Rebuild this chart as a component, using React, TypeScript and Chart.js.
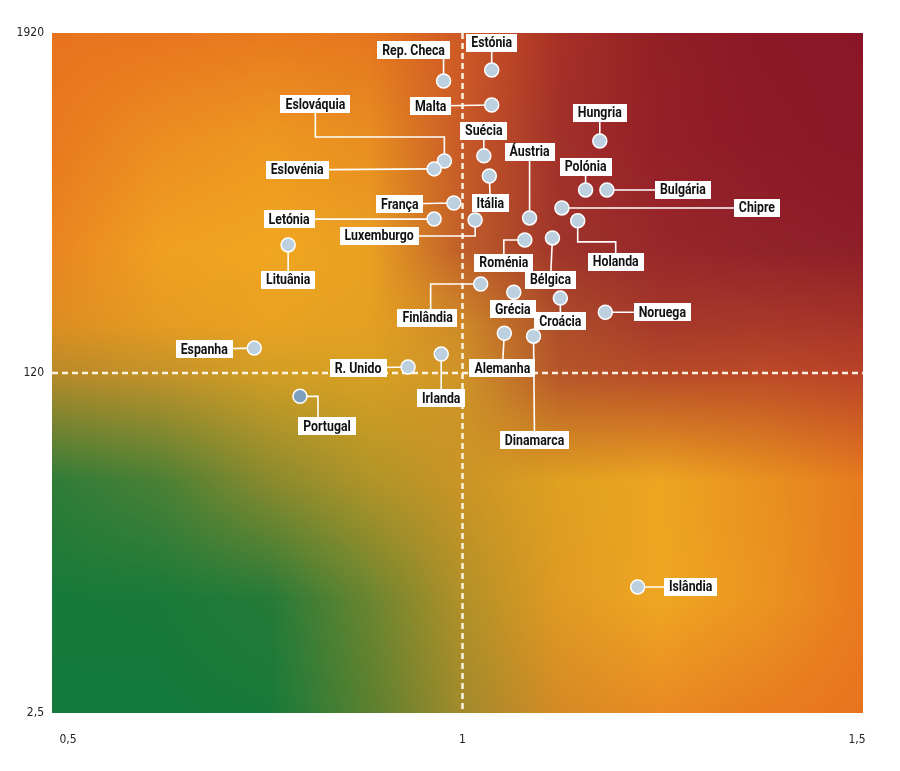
import { useEffect, useRef } from "react";
import { Chart, registerables } from "chart.js";

Chart.register(...registerables);

// countries and their two indicators (x: ratio, y: value on the split log axis)
const countries = [
  "Estónia", "Rep. Checa", "Malta", "Eslováquia", "Eslovénia", "Suécia", "Itália",
  "Áustria", "Hungria", "Polónia", "Bulgária", "Chipre", "França", "Letónia",
  "Luxemburgo", "Lituânia", "Holanda", "Roménia", "Bélgica", "Finlândia", "Grécia",
  "Croácia", "Noruega", "Espanha", "R. Unido", "Irlanda", "Alemanha", "Dinamarca",
  "Portugal", "Islândia",
];
const xValues = [
  1.037, 0.976, 1.037, 0.977, 0.964, 1.027, 1.034,
  1.085, 1.174, 1.156, 1.183, 1.126, 0.989, 0.964,
  1.016, 0.779, 1.146, 1.079, 1.114, 1.023, 1.065,
  1.124, 1.181, 0.736, 0.931, 0.973, 1.053, 1.09,
  0.794, 1.222,
];
const yValues = [
  1420, 1298, 1067, 676, 634, 705, 598,
  425, 796, 534, 534, 461, 480, 421,
  418, 341, 415, 355, 361, 248, 232,
  221, 197, 147, 126, 140, 166, 162,
  92, 10.5,
];
const xTicks = [0.5, 1, 1.5];
const yTicks = [2.5, 120, 1920];
const xTickLabels = ["0,5", "1", "1,5"];
const yTickLabels = ["2,5", "120", "1920"];
const highlighted = "Portugal";

// y axis: two log halves, 2,5..120 below the middle and 120..1920 above it
const toPos = (v: number) =>
  v <= yTicks[1]
    ? Math.log(v / yTicks[0]) / Math.log(yTicks[1] / yTicks[0])
    : 1 + Math.log(v / yTicks[1]) / Math.log(yTicks[2] / yTicks[1]);

// label placement (pixel offsets from the point), elbows for the leader lines
type Lay = { dx: number; dy: number; via?: number[][] };
const labelLayout: Record<string, Lay> = {
  "Estónia": { dx: 0, dy: -27 },
  "Rep. Checa": { dx: -30, dy: -31, via: [[0, -31]] },
  "Malta": { dx: -61, dy: 1 },
  "Eslováquia": { dx: -129, dy: -57, via: [[0, -24], [-129, -24]] },
  "Eslovénia": { dx: -137, dy: 1 },
  "Suécia": { dx: 0, dy: -25 },
  "Itália": { dx: 1, dy: 27 },
  "Áustria": { dx: 0, dy: -66 },
  "Hungria": { dx: 0, dy: -28 },
  "Polónia": { dx: 0, dy: -23 },
  "Bulgária": { dx: 76, dy: 0 },
  "Chipre": { dx: 195, dy: 0 },
  "França": { dx: -54, dy: 1 },
  "Letónia": { dx: -145, dy: 0 },
  "Luxemburgo": { dx: -96, dy: 16, via: [[0, 16]] },
  "Lituânia": { dx: 0, dy: 35 },
  "Holanda": { dx: 38, dy: 41, via: [[0, 21], [38, 21]] },
  "Roménia": { dx: -21, dy: 23, via: [[-21, 0], [-21, 23]] },
  "Bélgica": { dx: -2, dy: 42 },
  "Finlândia": { dx: -53, dy: 34, via: [[-50, 0], [-50, 34]] },
  "Grécia": { dx: -1, dy: 17 },
  "Croácia": { dx: 0, dy: 23 },
  "Noruega": { dx: 57, dy: 0 },
  "Espanha": { dx: -50, dy: 1 },
  "R. Unido": { dx: -50, dy: 1 },
  "Irlanda": { dx: 0, dy: 44 },
  "Alemanha": { dx: -2, dy: 35 },
  "Dinamarca": { dx: 1, dy: 104 },
  "Portugal": { dx: 27, dy: 30, via: [[18, 0], [18, 30]] },
  "Islândia": { dx: 53, dy: 0 },
};

const LABEL_FONT = "bold 14px Roboto, 'DejaVu Sans Condensed', sans-serif";
const LABEL_SQUEEZE = 0.88; // the original uses a condensed face
const TICK_FONT = "'DejaVu Sans Condensed', 'DejaVu Sans', sans-serif";

// background colour field, sampled on a grid over the plot area (fractions)
const bgCols = [0, 0.133, 0.269, 0.392, 0.503, 0.626, 0.75, 0.873, 1];
const bgRows = [0, 0.157, 0.319, 0.43, 0.5, 0.659, 0.834, 1];
const bgGrid = [
  ["#e8731f", "#e8751f", "#e87a1f", "#e5761f", "#cf5a25", "#a83026", "#921f25", "#8c1826", "#8a1526"],
  ["#e8791f", "#ec8d20", "#ed9820", "#e88d20", "#c95b27", "#a2302a", "#951f28", "#8e1a26", "#8a1726"],
  ["#ea8520", "#efa021", "#f0a621", "#e9a021", "#c0602a", "#9f342a", "#97272a", "#92222a", "#8e1e28"],
  ["#dc8e21", "#e49b21", "#e9a222", "#e4a022", "#cf8a27", "#ae4e2a", "#a6392a", "#a9382a", "#a83428"],
  ["#b88a29", "#c4922a", "#d29e25", "#d8a022", "#d09428", "#b5552a", "#b74a28", "#bc4a28", "#b84228"],
  ["#2f7c38", "#4a8035", "#8a8a2e", "#b09428", "#c99426", "#e0a020", "#eca521", "#e8921f", "#e77b1f"],
  ["#167a3a", "#187a3a", "#257a38", "#6a8530", "#b09028", "#e09a22", "#eea622", "#eb9520", "#e87a1f"],
  ["#137a3b", "#137a3b", "#177a3a", "#5a802f", "#a08a2c", "#d58a25", "#e98a22", "#e87d20", "#e8731f"],
];

const hexRgb = (h: string) => [1, 3, 5].map(i => parseInt(h.slice(i, i + 2), 16));

let bgCache: HTMLCanvasElement | null = null;

function buildBackground(w: number, h: number) {
  const off = document.createElement("canvas");
  off.width = w;
  off.height = h;
  const octx = off.getContext("2d")!;
  const img = octx.createImageData(w, h);
  const rgb = bgGrid.map(row => row.map(hexRgb));
  const seg = (arr: number[], f: number) => {
    let i = 0;
    while (i < arr.length - 2 && f > arr[i + 1]) i++;
    return [i, (f - arr[i]) / (arr[i + 1] - arr[i])];
  };
  for (let y = 0; y < h; y++) {
    const [j, ty] = seg(bgRows, y / (h - 1));
    for (let x = 0; x < w; x++) {
      const [i, tx] = seg(bgCols, x / (w - 1));
      const p = (y * w + x) * 4;
      for (let c = 0; c < 3; c++) {
        const top = rgb[j][i][c] * (1 - tx) + rgb[j][i + 1][c] * tx;
        const bot = rgb[j + 1][i][c] * (1 - tx) + rgb[j + 1][i + 1][c] * tx;
        img.data[p + c] = top * (1 - ty) + bot * ty;
      }
      img.data[p + 3] = 255;
    }
  }
  octx.putImageData(img, 0, 0);
  return off;
}

const backgroundPlugin = {
  id: "quadrantBackground",
  beforeDraw(chart: any) {
    const { ctx, chartArea: a } = chart;
    const w = Math.round(a.width);
    const h = Math.round(a.height);
    if (!bgCache || bgCache.width !== w || bgCache.height !== h) bgCache = buildBackground(w, h);
    ctx.drawImage(bgCache, a.left, a.top, a.width, a.height);
  },
};

const overlayPlugin = {
  id: "overlay",
  beforeDatasetsDraw(chart: any) {
    const { ctx, chartArea: a, scales } = chart;
    const xm = scales.x.getPixelForValue(xTicks[1]);
    const ym = scales.y.getPixelForValue(toPos(yTicks[1]));
    ctx.save();
    // reference lines
    ctx.strokeStyle = "rgba(255,250,235,0.95)";
    ctx.lineWidth = 2.5;
    ctx.setLineDash([6, 4]);
    ctx.beginPath();
    ctx.moveTo(xm, a.top);
    ctx.lineTo(xm, a.bottom);
    ctx.moveTo(a.left, ym);
    ctx.lineTo(a.right, ym);
    ctx.stroke();
    ctx.setLineDash([]);

    // leader lines
    const meta = chart.getDatasetMeta(0);
    ctx.strokeStyle = "#ffffff";
    ctx.lineWidth = 1.6;
    meta.data.forEach((el: any, i: number) => {
      const lay = labelLayout[countries[i]];
      ctx.beginPath();
      ctx.moveTo(el.x, el.y);
      (lay.via || []).forEach(([vx, vy]) => ctx.lineTo(el.x + vx, el.y + vy));
      ctx.lineTo(el.x + lay.dx, el.y + lay.dy);
      ctx.stroke();
    });

    // label boxes
    ctx.font = LABEL_FONT;
    ctx.textAlign = "center";
    ctx.textBaseline = "middle";
    meta.data.forEach((el: any, i: number) => {
      const lay = labelLayout[countries[i]];
      const text = countries[i];
      const bw = ctx.measureText(text).width * LABEL_SQUEEZE + 10;
      const bh = 18;
      const cx = el.x + lay.dx;
      const cy = el.y + lay.dy;
      ctx.fillStyle = "#ffffff";
      ctx.fillRect(Math.round(cx - bw / 2), Math.round(cy - bh / 2), Math.round(bw), bh);
      ctx.fillStyle = "#111111";
      ctx.save();
      ctx.translate(cx, cy + 1);
      ctx.scale(LABEL_SQUEEZE, 1);
      ctx.fillText(text, 0, 0);
      ctx.restore();
    });
    ctx.restore();
  },
};

export default function App() {
  const canvasRef = useRef<HTMLCanvasElement>(null);
  const chartRef = useRef<Chart | null>(null);

  useEffect(() => {
    if (!canvasRef.current) return;
    if (chartRef.current) chartRef.current.destroy();

    chartRef.current = new Chart(canvasRef.current, {
      type: "scatter",
      data: {
        datasets: [{
          data: countries.map((_, i) => ({ x: xValues[i], y: toPos(yValues[i]) })),
          pointRadius: 7,
          pointHoverRadius: 7,
          pointBackgroundColor: countries.map(c => (c === highlighted ? "#7f9fbc" : "#bcd0df")),
          pointBorderColor: "#ffffff",
          pointBorderWidth: 1.5,
        }],
      },
      options: {
        responsive: true,
        maintainAspectRatio: false,
        animation: false,
        layout: { padding: { top: 33, right: 37, left: 0, bottom: 0 } },
        plugins: { legend: { display: false }, tooltip: { enabled: false } },
        scales: {
          x: {
            type: "linear",
            min: 0.4797,
            max: 1.5076,
            afterBuildTicks: (s: any) => { s.ticks = xTicks.map(v => ({ value: v })); },
            afterFit: (s: any) => { s.height = 58; },
            grid: { display: false, drawTicks: false },
            border: { display: false },
            ticks: {
              padding: 20,
              color: "#222",
              font: { family: TICK_FONT, size: 12 },
              maxRotation: 0,
              callback: (v: any) => xTickLabels[xTicks.indexOf(Number(v))] ?? "",
            },
          },
          y: {
            type: "linear",
            min: 0,
            max: 2,
            afterBuildTicks: (s: any) => { s.ticks = yTicks.map(v => ({ value: toPos(v) })); },
            afterFit: (s: any) => { s.width = 52; },
            grid: { display: false, drawTicks: false },
            border: { display: false },
            ticks: {
              padding: 8,
              color: "#222",
              font: { family: TICK_FONT, size: 12 },
              callback: (v: any) => {
                const k = yTicks.findIndex(t => Math.abs(toPos(t) - Number(v)) < 1e-6);
                return k >= 0 ? yTickLabels[k] : "";
              },
            },
          },
        },
      },
      plugins: [backgroundPlugin, overlayPlugin],
    });

    return () => {
      if (chartRef.current) {
        chartRef.current.destroy();
        chartRef.current = null;
      }
    };
  }, []);

  return (
    <div style={{ position: "absolute", left: 0, top: 0, width: 900, height: 771, background: "#fff" }}>
      <canvas ref={canvasRef} />
    </div>
  );
}
